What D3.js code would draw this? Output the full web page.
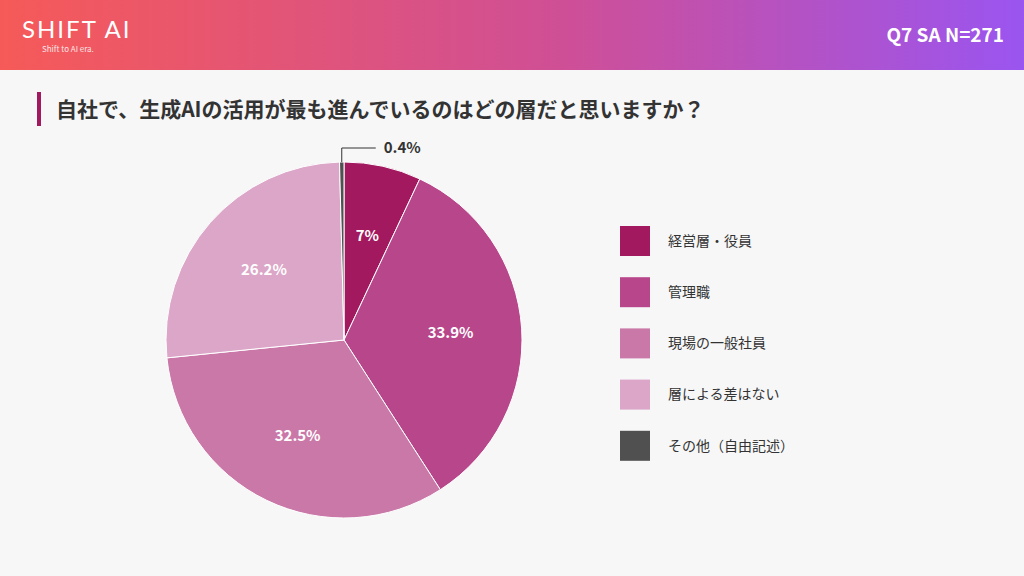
<!DOCTYPE html>
<html><head><meta charset="utf-8">
<script src="https://cdn.jsdelivr.net/npm/d3@7"></script>
<style>body{margin:0;background:#fff;font-family:"Noto Sans CJK JP","Noto Sans",sans-serif}</style>
</head><body>
<svg id="c" width="1024" height="576"></svg>
<script>
var categories = ["経営層・役員","管理職","現場の一般社員","層による差はない","その他（自由記述）"]
var values = [7, 33.9, 32.5, 26.2, 0.4]
var colors = ["#a3195f","#b8468a","#c978a8","#dba6c7","#505050"]

var svg = d3.select("#c")
var defs = svg.append("defs")
var g = defs.append("linearGradient").attr("id","hd")
g.append("stop").attr("offset","0%").attr("stop-color","#f65a58")
g.append("stop").attr("offset","55%").attr("stop-color","#cf4f96")
g.append("stop").attr("offset","100%").attr("stop-color","#9a55f0")
svg.append("rect").attr("width",1024).attr("height",576).attr("fill","#f7f7f8")
svg.append("rect").attr("width",1024).attr("height",70).attr("fill","url(#hd)")
svg.append("text").attr("x",22).attr("y",38).attr("fill","#fff").attr("font-family","Lato,sans-serif")
  .attr("font-size",24).attr("letter-spacing",2).text("SHIFT AI")
svg.append("text").attr("x",42).attr("y",52).attr("fill","#fff").attr("font-size",8).attr("opacity",0.85).text("Shift to AI era.")
svg.append("text").attr("x",1004).attr("y",42).attr("text-anchor","end").attr("fill","#fff")
  .attr("font-size",19).attr("font-weight","bold").text("Q7 SA N=271")
svg.append("rect").attr("x",37).attr("y",92).attr("width",4).attr("height",34).attr("fill","#a3195f")
svg.append("text").attr("x",56).attr("y",117).attr("fill","#333").attr("font-size",21).attr("font-weight","bold")
  .text("自社で、生成AIの活用が最も進んでいるのはどの層だと思いますか？")

var cx = 344, cy = 340, r = 178
var pie = d3.pie().sort(null).value(function(d){return d})
var arcs = pie(values)
var arc = d3.arc().innerRadius(0).outerRadius(r)
var lab = d3.arc().innerRadius(r*0.6).outerRadius(r*0.6)
var pg = svg.append("g").attr("transform","translate("+cx+","+cy+")")
pg.selectAll("path").data(arcs).enter().append("path")
  .attr("d", arc).attr("fill", function(d,i){return colors[i]})
  .attr("stroke","#fff").attr("stroke-width",1)
pg.selectAll("text.l").data(arcs.slice(0,4)).enter().append("text")
  .attr("transform", function(d){return "translate("+lab.centroid(d)+")"})
  .attr("text-anchor","middle").attr("dy","0.35em").attr("fill","#fff")
  .attr("font-size",15).attr("font-weight","bold")
  .text(function(d){return d.value+"%"})
// small slice callout
var last = arcs[4]
var a = (last.startAngle+last.endAngle)/2
var px = Math.sin(a)*r, py = -Math.cos(a)*r
pg.append("polyline").attr("points",[[px,py],[px,py-14],[px+34,py-14]].join(" "))
  .attr("fill","none").attr("stroke","#333").attr("stroke-width",1)
pg.append("text").attr("x",px+42).attr("y",py-14).attr("dy","0.35em").attr("fill","#333")
  .attr("font-size",15).attr("font-weight","bold").text(last.value+"%")

var y = d3.scaleBand().domain(categories).range([226,482])
var lg = svg.append("g").selectAll("g").data(categories).enter().append("g")
  .attr("transform", function(d){return "translate(620,"+y(d)+")"})
lg.append("rect").attr("width",30).attr("height",30).attr("fill",function(d,i){return colors[i]})
lg.append("text").attr("x",48).attr("y",15).attr("dy","0.35em").attr("fill","#333").attr("font-size",14).text(function(d){return d})
</script>
</body></html>
